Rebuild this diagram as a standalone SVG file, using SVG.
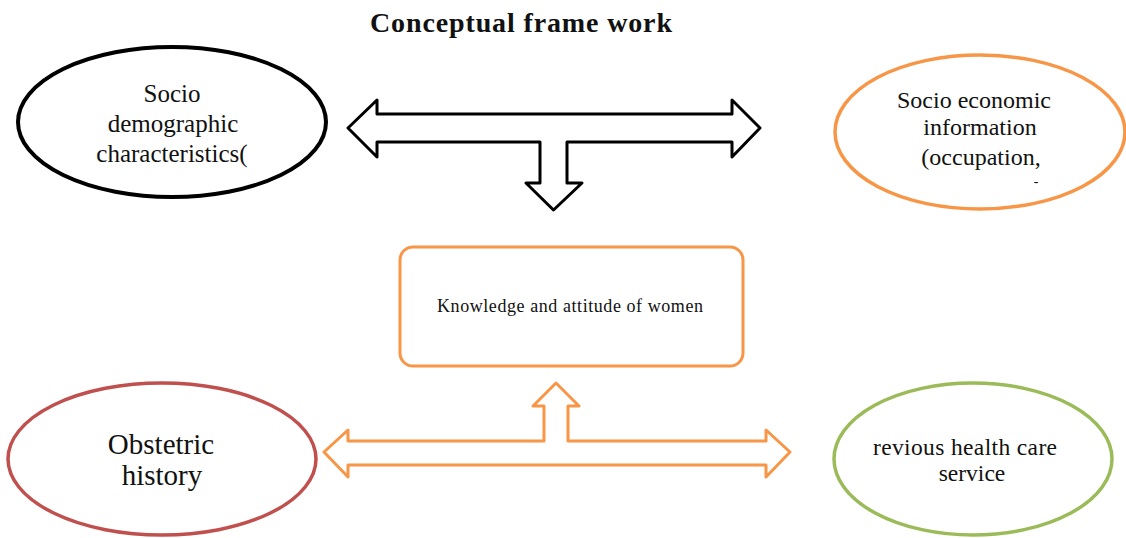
<svg xmlns="http://www.w3.org/2000/svg" width="1126" height="538" viewBox="0 0 1126 538" font-family="'Liberation Serif', 'Times New Roman', serif">
<style>
text{font-family:"Liberation Serif","Times New Roman",serif;fill:#111;text-anchor:middle}
.title{font-weight:bold;font-size:28px}
.conn{fill:#fff;stroke-width:3;stroke-linejoin:round}
</style>
<rect width="1126" height="538" fill="#fff"/>
<text class="title" x="521" y="32" textLength="302">Conceptual frame work</text>
<g id="connectors">
<path class="conn" stroke="#000" d="M348,128 L377,100 L377,114 L732,114 L732,100 L760,128 L732,157 L732,142 L567,142 L567,183 L582,183 L553.5,210 L526,183 L540,183 L540,142 L377,142 L377,157 Z"/>
<path class="conn" stroke="#F79646" d="M324,452 L348,430 L348,441 L544,441 L544,406 L533,406 L556,383 L579,406 L568,406 L568,441 L766,441 L766,430 L790,452 L766,477 L766,465 L348,465 L348,477 Z"/>
</g>
<g id="socio-demographic">
<ellipse cx="172" cy="122" rx="154" ry="75" fill="#fff" stroke="#000" stroke-width="4"/>
<text x="172" y="102" font-size="25">Socio</text>
<text x="173" y="132" font-size="25">demographic</text>
<text x="172" y="162" font-size="25">characteristics(</text>
</g>
<g id="socio-economic">
<ellipse cx="980" cy="132" rx="145" ry="77" fill="#fff" stroke="#F79646" stroke-width="3.5"/>
<text x="974" y="108" font-size="24">Socio economic</text>
<text x="980" y="135" font-size="24">information</text>
<text x="981" y="165" font-size="24">(occupation,</text>
<text x="1036" y="186" font-size="14">-</text>
</g>
<g id="knowledge">
<rect x="400" y="247" width="343" height="119" rx="13" fill="#fff" stroke="#F79646" stroke-width="3"/>
<text x="570" y="312" font-size="18" textLength="266">Knowledge and attitude of women</text>
</g>
<g id="obstetric">
<ellipse cx="162" cy="459" rx="154" ry="76" fill="#fff" stroke="#C0504D" stroke-width="3.5"/>
<text x="161" y="454" font-size="29">Obstetric</text>
<text x="162" y="485" font-size="29">history</text>
</g>
<g id="health-care">
<ellipse cx="973" cy="459" rx="139" ry="76" fill="#fff" stroke="#9BBB59" stroke-width="3.5"/>
<text x="965" y="455" font-size="23.5" textLength="184">revious health care</text>
<text x="972" y="481" font-size="23.5">service</text>
</g>
</svg>
